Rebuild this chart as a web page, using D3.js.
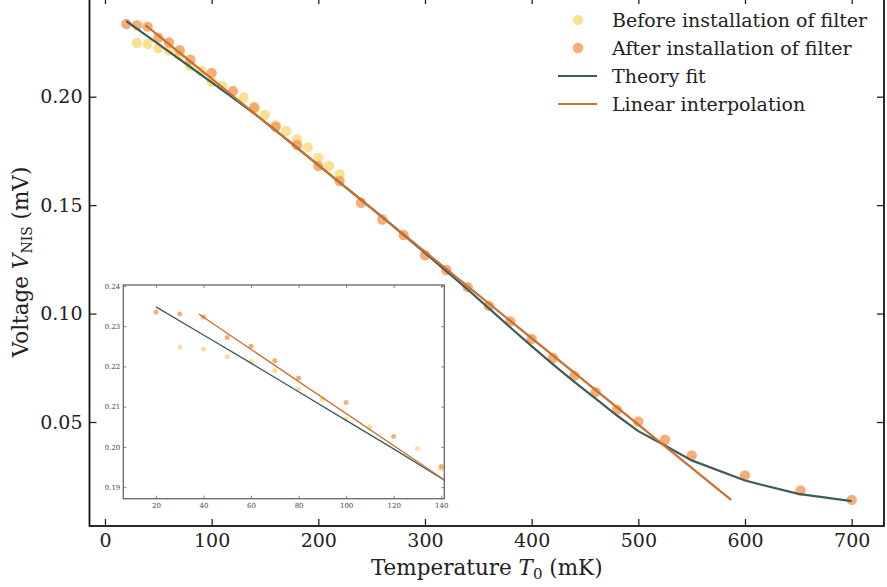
<!DOCTYPE html>
<html><head><meta charset="utf-8">
<script src="https://cdn.jsdelivr.net/npm/d3@7"></script>
<style>body{margin:0;background:#fff} svg{display:block} text{font-family:"DejaVu Serif",serif}</style>
</head><body><svg id="c" width="887" height="587"></svg>
<script>
// ---- data ----
const beforeT = [30,40,50,60,70,80,90,100,110,130,140,150,160,170,180,190,200,210,220];
const beforeV = [0.2248,0.2243,0.2224,0.2213,0.2190,0.2143,0.2119,0.2069,0.2050,0.1996,0.1945,0.1916,0.1868,0.1842,0.1803,0.1766,0.1718,0.1681,0.1643];
const afterT = [20,30,40,50,60,70,80,100,120,140,160,180,200,220,240,260,280,300,320,340,360,380,400,420,440,460,480,500,525,550,600,652,700];
const afterV = [0.2335,0.2330,0.2323,0.2272,0.2250,0.2214,0.2171,0.2110,0.2026,0.1951,0.1861,0.1777,0.1680,0.1611,0.1511,0.1434,0.1362,0.1269,0.1201,0.1122,0.1036,0.0964,0.0883,0.0795,0.0713,0.0638,0.0557,0.0502,0.0418,0.0346,0.0254,0.0184,0.0141];
const theoryT = [20,40,60,80,100,120,140,160,180,200,220,240,260,280,300,320,340,360,380,400,420,440,460,480,500,525,550,600,650,700];
const theoryV = [0.2348,0.2278,0.2208,0.2137,0.2066,0.1995,0.1922,0.1845,0.1765,0.1685,0.1605,0.1525,0.1445,0.1363,0.1280,0.1196,0.1111,0.1024,0.0936,0.0850,0.0766,0.0685,0.0608,0.0530,0.0458,0.0392,0.0323,0.0230,0.0169,0.0135];
const linearT = [38,587];
const linearV = [0.2330,0.0141];
const xTicks = [0,100,200,300,400,500,600,700];
const yTicks = [0.05,0.10,0.15,0.20];
const insetXTicks = [20,40,60,80,100,120,140];
const insetYTicks = [0.19,0.20,0.21,0.22,0.23,0.24];
const legendLabels = ["Before installation of filter","After installation of filter","Theory fit","Linear interpolation"];

const COL_BEFORE = "#f7d977", COL_AFTER = "#f39a55", COL_THEORY = "#3f5c58", COL_LINEAR = "#c9712f";
const zip = (a,b) => a.map((t,i)=>({t, v:b[i]}));
const before = zip(beforeT,beforeV), after = zip(afterT,afterV), theory = zip(theoryT,theoryV), linear = zip(linearT,linearV);

const svg = d3.select("#c");
const L=89.5, R=884, T=-3, B=526;
const x = d3.scaleLinear().domain([-14.5,730.3]).range([L,R]);
const y = d3.scaleLinear().domain([0.00205,0.24597]).range([B,T]);

svg.append("defs").append("clipPath").attr("id","mainclip").append("rect")
  .attr("x",L).attr("y",T).attr("width",R-L).attr("height",B-T);
svg.select("defs").append("clipPath").attr("id","insclip").append("rect")
  .attr("x",123.3).attr("y",285).attr("width",444.3-123.3).attr("height",498.7-285);

const g = svg.append("g").attr("clip-path","url(#mainclip)");
const drawPts = (sel, data, sx, sy, r, col) => sel.selectAll(null).data(data).enter().append("circle")
  .attr("cx",d=>sx(d.t)).attr("cy",d=>sy(d.v)).attr("r",r).attr("fill",col).attr("fill-opacity",0.8);
drawPts(g, before, x, y, 5.2, COL_BEFORE);
drawPts(g, after, x, y, 5.2, COL_AFTER);
const line = (sx,sy)=>d3.line().x(d=>sx(d.t)).y(d=>sy(d.v));
g.append("path").attr("d",line(x,y)(theory)).attr("fill","none").attr("stroke",COL_THEORY).attr("stroke-width",2.2);
g.append("path").attr("d",line(x,y)(linear)).attr("fill","none").attr("stroke",COL_LINEAR).attr("stroke-width",2.2);

// axes (ticks inward)
const fmtY = d3.format(".2f");
const axB = svg.append("g").attr("transform",`translate(0,${B})`).call(d3.axisBottom(x).tickValues(xTicks).tickSize(-7).tickPadding(8).tickFormat(d3.format("d")));
const axT = svg.append("g").attr("transform",`translate(0,${T})`).call(d3.axisTop(x).tickValues(xTicks).tickSize(-7).tickFormat(""));
const axL = svg.append("g").attr("transform",`translate(${L},0)`).call(d3.axisLeft(y).tickValues(yTicks).tickSize(-7).tickPadding(7).tickFormat(fmtY));
const axR = svg.append("g").attr("transform",`translate(${R},0)`).call(d3.axisRight(y).tickValues(yTicks).tickSize(-7).tickFormat(""));
[axB,axT,axL,axR].forEach(a=>{
  a.select(".domain").remove();
  a.selectAll(".tick line").attr("stroke","#222").attr("stroke-width",1.3);
  a.selectAll("text").attr("font-family","DejaVu Serif").attr("font-size",19).attr("fill","#222");
});
svg.append("rect").attr("x",L).attr("y",T).attr("width",R-L).attr("height",B-T)
  .attr("fill","none").attr("stroke","#111").attr("stroke-width",1.8);

// axis labels
const xl = svg.append("text").attr("x",(L+R)/2).attr("y",575).attr("text-anchor","middle").attr("font-size",21.5).attr("fill","#222");
xl.append("tspan").text("Temperature ");
xl.append("tspan").attr("font-style","italic").text("T");
xl.append("tspan").attr("font-size",15).attr("dy",4).text("0");
xl.append("tspan").attr("dy",-4).text(" (mK)");
const yl = svg.append("text").attr("transform","translate(28,262) rotate(-90)").attr("text-anchor","middle").attr("font-size",21.5).attr("fill","#222");
yl.append("tspan").text("Voltage ");
yl.append("tspan").attr("font-style","italic").text("V");
yl.append("tspan").attr("font-size",14).attr("dy",4).text("NIS");
yl.append("tspan").attr("dy",-4).text(" (mV)");

// legend
const lg = svg.append("g");
const ly = [20,48,76,104];
lg.append("circle").attr("cx",578).attr("cy",ly[0]).attr("r",5.2).attr("fill",COL_BEFORE).attr("fill-opacity",0.8);
lg.append("circle").attr("cx",578).attr("cy",ly[1]).attr("r",5.2).attr("fill",COL_AFTER).attr("fill-opacity",0.8);
lg.append("line").attr("x1",558).attr("x2",597).attr("y1",ly[2]).attr("y2",ly[2]).attr("stroke",COL_THEORY).attr("stroke-width",2.2);
lg.append("line").attr("x1",558).attr("x2",597).attr("y1",ly[3]).attr("y2",ly[3]).attr("stroke",COL_LINEAR).attr("stroke-width",2.2);
legendLabels.forEach((s,i)=>lg.append("text").attr("x",612).attr("y",ly[i]+7).attr("font-size",19).attr("fill","#222").text(s));

// inset
const iL=123.3, iR=444.3, iT=285, iB=498.7;
const xi = d3.scaleLinear().domain([6.25,141.3]).range([iL,iR]);
const yi = d3.scaleLinear().domain([0.18713,0.24022]).range([iB,iT]);
svg.append("rect").attr("x",iL).attr("y",iT).attr("width",iR-iL).attr("height",iB-iT).attr("fill","#fff");
const gi = svg.append("g").attr("clip-path","url(#insclip)");
drawPts(gi, before.filter(d=>d.t<=141), xi, yi, 2.5, COL_BEFORE);
drawPts(gi, after.filter(d=>d.t<=141), xi, yi, 2.5, COL_AFTER);
gi.append("path").attr("d",line(xi,yi)(theory)).attr("fill","none").attr("stroke",COL_THEORY).attr("stroke-width",1.3);
gi.append("path").attr("d",line(xi,yi)(linear)).attr("fill","none").attr("stroke",COL_LINEAR).attr("stroke-width",1.3);
const ia = [
  svg.append("g").attr("transform",`translate(0,${iB})`).call(d3.axisBottom(xi).tickValues(insetXTicks).tickSize(-3).tickPadding(4).tickFormat(d3.format("d"))),
  svg.append("g").attr("transform",`translate(0,${iT})`).call(d3.axisTop(xi).tickValues(insetXTicks).tickSize(-3).tickFormat("")),
  svg.append("g").attr("transform",`translate(${iL},0)`).call(d3.axisLeft(yi).tickValues(insetYTicks).tickSize(-3).tickPadding(3).tickFormat(fmtY)),
  svg.append("g").attr("transform",`translate(${iR},0)`).call(d3.axisRight(yi).tickValues(insetYTicks).tickSize(-3).tickFormat(""))
];
ia.forEach(a=>{
  a.select(".domain").remove();
  a.selectAll(".tick line").attr("stroke","#666").attr("stroke-width",0.8);
  a.selectAll("text").attr("font-family","DejaVu Serif").attr("font-size",7).attr("fill","#444");
});
svg.append("rect").attr("x",iL).attr("y",iT).attr("width",iR-iL).attr("height",iB-iT)
  .attr("fill","none").attr("stroke","#666").attr("stroke-width",1.3);
</script></body></html>
